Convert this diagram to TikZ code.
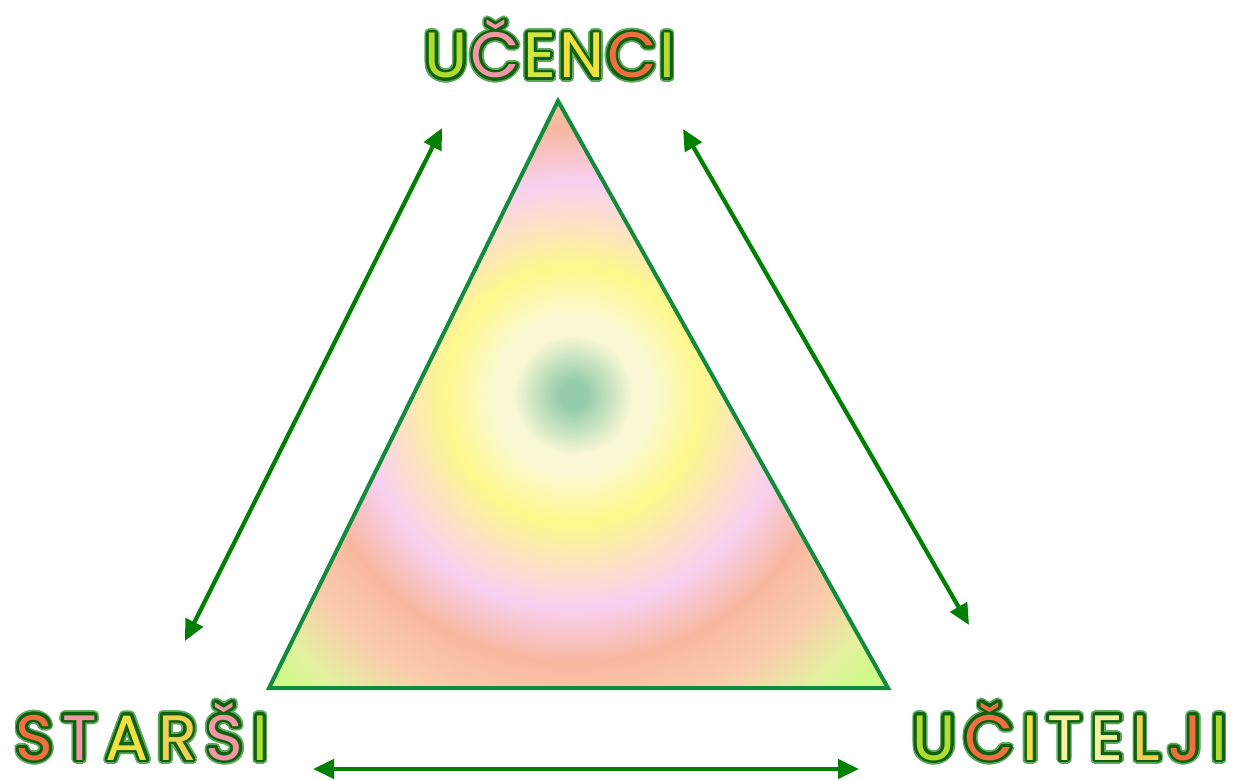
\documentclass[tikz,border=0pt]{standalone}
\usepackage{fontspec}
\setmainfont{Poppins}
\usetikzlibrary{arrows.meta,calc}
\definecolor{arrowgreen}{RGB}{0,128,0}
\definecolor{trigreen}{RGB}{16,140,60}
\definecolor{darkg}{RGB}{16,96,16}
\definecolor{glowg}{RGB}{90,170,90}
\definecolor{lime}{RGB}{176,220,48}
\definecolor{limey}{RGB}{208,232,64}
\definecolor{orng}{RGB}{240,110,64}
\definecolor{pnk}{RGB}{240,150,165}
\definecolor{ylw}{RGB}{240,224,64}
\definecolor{ylwo}{RGB}{240,208,80}
\definecolor{lylw}{RGB}{245,240,160}
% shading colours
\definecolor{s0}{RGB}{150,205,172}
\definecolor{s1}{RGB}{250,248,212}
\definecolor{s2}{RGB}{255,248,140}
\definecolor{s3}{RGB}{252,228,192}
\definecolor{s4}{RGB}{248,208,240}
\definecolor{s5}{RGB}{248,184,160}
\definecolor{s6}{RGB}{250,204,172}
\definecolor{s7}{RGB}{228,240,160}
\definecolor{s8}{RGB}{205,250,135}
\pgfdeclareradialshading{trishade}{\pgfpointorigin}{%
  color(0bp)=(s0); color(14bp)=(s0); color(60bp)=(s1); color(78bp)=(s1);
  color(128bp)=(s2); color(168bp)=(s3); color(212bp)=(s4); color(266bp)=(s5);
  color(322bp)=(s6); color(372bp)=(s7); color(410bp)=(s8); color(430bp)=(s8)}
\newif\ifplain
\newcommand\lc[2]{\ifplain#2\else\textcolor{#1}{#2}\fi}
\newlength\ls
\newcommand\gp{\kern\ls}
\newcommand\glowring[2]{%
  \foreach \a in {0,15,...,345}{%
    \pgfmathsetlengthmacro\dx{#2*cos(\a)}%
    \pgfmathsetlengthmacro\dy{#2*sin(\a)}%
    \rlap{\kern\dx\raisebox{\dy}{\plaintrue\color{#1}\thetext}}}}
\newcommand\fancy[1]{\def\thetext{#1}\glowring{glowg}{4.4pt}\glowring{darkg}{2.8pt}\thetext}
\tikzset{
  word/.style={font=\fontsize{64}{64}\selectfont, inner sep=0pt, anchor=base},
  twoway/.style={draw=arrowgreen, line width=4.2pt, {Triangle[length=21pt,width=19pt]}-{Triangle[length=21pt,width=19pt]}},
  tri/.style={draw=trigreen, line width=4pt, line join=miter}
}
\begin{document}
\begin{tikzpicture}[x=1pt,y=-1pt]
\useasboundingbox (0,0) rectangle (1236,781);
\coordinate (A) at (558,101);
\coordinate (B) at (269,688);
\coordinate (C) at (888,688);
\begin{scope}
  \clip (A) -- (B) -- (C) -- cycle;
  \node[inner sep=0pt] (shade) at (573,395) {\pgfuseshading{trishade}};
\end{scope}
\draw[tri] (A) -- (B) -- (C) -- cycle;
% arrows
\coordinate (l1) at (442,128);
\coordinate (l2) at (185,641);
\coordinate (r1) at (683,129);
\coordinate (r2) at (969,625);
\coordinate (b1) at (313,769);
\coordinate (b2) at (859,769);
\draw[twoway] (l1) -- (l2);
\draw[twoway] (r1) -- (r2);
\draw[twoway] (b1) -- (b2);
% labels
\node[word] (ucenci) at (550,78) {\setlength\ls{3pt}\fancy{\lc{lime}{U}\gp\lc{pnk}{Č}\gp\lc{limey}{E}\gp\lc{ylw}{N}\gp\lc{orng}{C}\gp\lc{lime}{I}}};
\node[word] (starsi) at (142,760) {\setlength\ls{9pt}\fancy{\lc{orng}{S}\gp\lc{pnk}{T}\gp\lc{ylw}{A}\gp\lc{ylwo}{R}\gp\lc{pnk}{Š}\gp\lc{lime}{I}}};
\node[word] (ucitelji) at (1070,760) {\setlength\ls{8.8pt}\fancy{\lc{lime}{U}\gp\lc{orng}{Č}\gp\lc{ylw}{I}\gp\lc{lylw}{T}\gp\lc{lylw}{E}\gp\lc{ylwo}{L}\gp\lc{orng}{J}\gp\lc{lime}{I}}};
\end{tikzpicture}
\end{document}
